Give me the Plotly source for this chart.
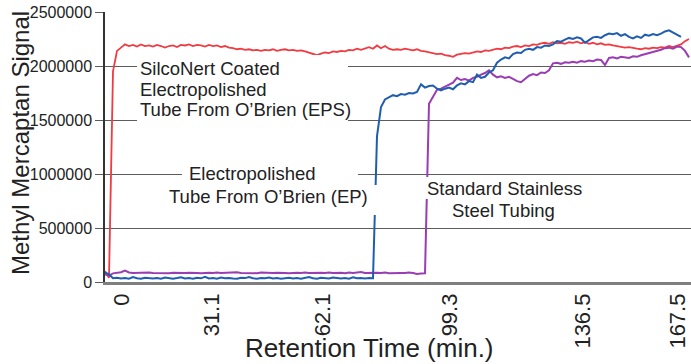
import plotly.graph_objects as go

# ---------------- data (signal values in thousands) ----------------
sample = list(range(147))

red_k = [100, 40, 1950, 2140, 2170, 2200, 2185, 2195, 2180, 2200,
         2185, 2190, 2180, 2195, 2185, 2170, 2185, 2190, 2175, 2195,
         2190, 2200, 2185, 2195, 2190, 2180, 2195, 2185, 2190, 2175,
         2185, 2170, 2165, 2155, 2160, 2150, 2155, 2145, 2150, 2140,
         2150, 2145, 2155, 2140, 2150, 2155, 2145, 2150, 2140, 2145,
         2135, 2125, 2110, 2100, 2115, 2125, 2120, 2135, 2130, 2140,
         2135, 2150, 2145, 2160, 2150, 2165, 2175, 2160, 2190, 2165,
         2185, 2160, 2150, 2155, 2150, 2160, 2150, 2145, 2155, 2140,
         2135, 2125, 2120, 2110, 2115, 2100, 2095, 2085, 2105, 2110,
         2120, 2115, 2125, 2135, 2130, 2145, 2140, 2150, 2160, 2155,
         2170, 2165, 2180, 2185, 2175, 2190, 2185, 2200, 2195, 2210,
         2215, 2205, 2220, 2210, 2215, 2205, 2220, 2215, 2225, 2210,
         2220, 2205, 2215, 2200, 2210, 2195, 2200, 2190, 2185, 2180,
         2170, 2175, 2165, 2160, 2155, 2165, 2160, 2170, 2165, 2175,
         2170, 2185, 2175, 2190, 2200, 2230, 2250]

blue_k = [90, 70, 35,
          40, 32, 38, 30, 45, 35, 30, 40, 36, 33,
          38, 30, 42, 35, 31, 37, 44, 33, 36, 30,
          39, 34, 47, 32, 36, 30, 41, 35, 38, 33,
          30, 40, 36, 45, 34, 31, 38, 35, 42, 33,
          37, 30, 35, 40, 33, 38, 31, 36, 45, 34,
          30, 39, 35, 32, 41, 36, 33, 38, 30, 44,
          35, 37, 33, 36, 35,
          1350, 1620, 1690, 1710, 1730, 1720, 1740, 1735, 1750, 1745, 1760,
          1830, 1800, 1815, 1820, 1790, 1775, 1790, 1800, 1785, 1820,
          1840, 1830, 1860, 1850, 1920, 1890, 1900, 1940, 1960, 2030,
          2060, 2080, 2070, 2110, 2125, 2120, 2150, 2160, 2150, 2175,
          2170, 2190, 2185, 2200, 2230, 2225, 2245, 2260, 2250, 2265,
          2255, 2215, 2240, 2265, 2270, 2260, 2285, 2300, 2295, 2305,
          2280, 2295, 2270, 2255, 2275, 2260, 2290, 2280, 2295, 2285,
          2300, 2320, 2330, 2310, 2290, 2270, None, None]

purple_k = [70, 60, 80, 85, 90, 105, 88,
            84, 86, 82, 85, 88, 84, 83, 87, 85, 82,
            86, 84, 88, 83, 85, 87, 84, 82, 86, 85,
            83, 88, 84, 86, 82, 85, 90, 84, 83, 86,
            85, 82, 87, 84, 86, 83, 85, 88, 84, 82,
            86, 85, 83, 87, 84, 86, 82, 85, 84, 88,
            83, 86, 85, 82, 87, 84, 85, 92, 84, 86,
            83, 85, 84, 87, 82, 85, 86, 84, 83, 88,
            84, 75, 78, 80,
            1650, 1720, 1780, 1790, 1810, 1830, 1845, 1890, 1870,
            1880, 1865, 1890, 1900, 1920, 1935, 1960, 1920, 1895, 1905,
            1890, 1900, 1880, 1860, 1850, 1880, 1910, 1925, 1915, 1940,
            1935, 1960, 2025, 2030, 2020, 2035, 2030, 2040, 2030, 2045,
            2040, 2050, 2045, 2060, 2055, 2010, 2075, 2080, 2070, 2085,
            2080, 2075, 2090, 2085, 2100, 2110, 2120, 2125, 2140, 2150,
            2165, 2170, 2160, 2180, 2175, 2140, 2080]

tick_samples = [4.25, 26.75, 54.5, 86.25, 119.5, 143.25]
tick_labels = ["0", "31.1", "62.1", "99.3", "136.5", "167.5"]
y_ticks = [0, 500000, 1000000, 1500000, 2000000, 2500000]


def to_signal(vals):
    return [None if v is None else v * 1000 for v in vals]


FONT = "Liberation Sans, Arial, sans-serif"
TXT = "#222222"

# plot-area geometry (pixels) used to place labels
L, R, T, B = 105, 691, 12, 282


def px_x(p):
    return (p - L) / (R - L)


def px_y(p):
    return (B - p) / (B - T)


fig = go.Figure()
fig.add_trace(go.Scatter(x=sample, y=to_signal(red_k), mode="lines",
                         line=dict(color="#ef3b41", width=1.8), name="EPS"))
fig.add_trace(go.Scatter(x=sample, y=to_signal(purple_k), mode="lines",
                         line=dict(color="#9a3db3", width=2), name="SS"))
fig.add_trace(go.Scatter(x=sample, y=to_signal(blue_k), mode="lines",
                         line=dict(color="#1f5eae", width=2), name="EP"))

# white label boxes
boxes = [(137, 55, 348, 124), (182, 163, 358, 185), (165, 185, 395, 215),
         (418, 177, 590, 199)]
shapes = []
for x0, y0, x1, y1 in boxes:
    shapes.append(dict(type="rect", xref="paper", yref="paper",
                       x0=px_x(x0), x1=px_x(x1), y0=px_y(y1), y1=px_y(y0),
                       fillcolor="white", line=dict(width=0), layer="above"))

labels = [
    ("SilcoNert Coated", 138, 68, "left"),
    ("Electropolished", 138, 89, "left"),
    ("Tube From O\u2019Brien (EPS)", 138, 109, "left"),
    ("Electropolished", 252, 173, "center"),
    ("Tube From O\u2019Brien (EP)", 268, 197, "center"),
    ("Standard Stainless", 504, 188, "center"),
    ("Steel Tubing", 503, 210, "center"),
]
annotations = []
for text, x, y, anc in labels:
    annotations.append(dict(text=text, xref="paper", yref="paper",
                            x=px_x(x), y=px_y(y), xanchor=anc, yanchor="middle",
                            showarrow=False,
                            font=dict(family=FONT, size=18.5, color=TXT)))

annotations.append(dict(text="Methyl Mercaptan Signal", xref="paper", yref="paper",
                        x=px_x(20), y=px_y(143), xanchor="center", yanchor="middle",
                        textangle=-90, showarrow=False,
                        font=dict(family=FONT, size=24, color=TXT)))
annotations.append(dict(text="Retention Time (min.)", xref="paper", yref="paper",
                        x=px_x(369), y=px_y(348), xanchor="center", yanchor="middle",
                        showarrow=False,
                        font=dict(family=FONT, size=26, color=TXT)))

fig.update_layout(
    width=691, height=364,
    margin=dict(l=L, r=691 - R, t=T, b=364 - B),
    paper_bgcolor="white", plot_bgcolor="white",
    showlegend=False,
    shapes=shapes, annotations=annotations,
    xaxis=dict(range=[0, 146.5], tickmode="array", tickvals=tick_samples,
               ticktext=tick_labels, tickangle=-90, showgrid=False,
               zeroline=False, showline=True, linecolor="#7f7f7f", linewidth=2.5,
               ticks="", automargin=False,
               tickfont=dict(family=FONT, size=22, color=TXT)),
    yaxis=dict(range=[0, 2500000], tickmode="array", tickvals=y_ticks,
               ticktext=[str(v) for v in y_ticks], showgrid=True,
               gridcolor="#5c5c5c", gridwidth=1.2, zeroline=False,
               showline=True, linecolor="#333333", linewidth=1.5,
               ticks="outside", ticklen=8, tickcolor="#5c5c5c", tickwidth=1.2,
               automargin=False,
               tickfont=dict(family=FONT, size=16, color=TXT)),
)

fig.write_html("out.html",
               config={"displayModeBar": False},
               post_script="document.body.style.margin='0';"
                           "document.body.style.overflow='hidden';")
